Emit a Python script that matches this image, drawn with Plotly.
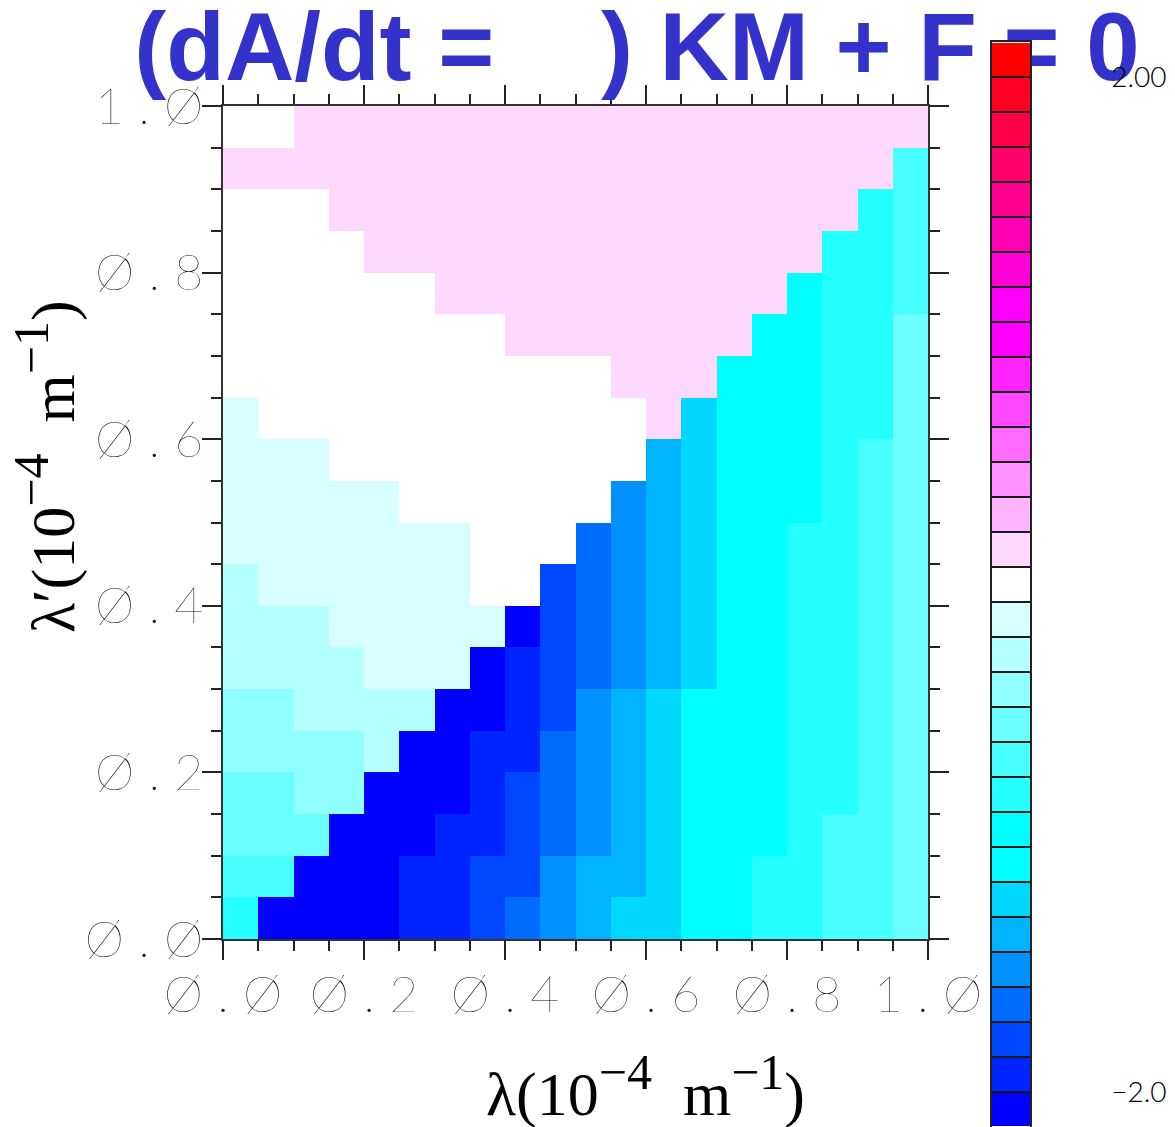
import numpy as np
import plotly.graph_objects as go

# ---------------------------------------------------------------- data
# cell centres along both wavenumber axes (10^-4 m^-1)
lam = [0.025, 0.075, 0.125, 0.175, 0.225, 0.275, 0.325, 0.375, 0.425, 0.475,
       0.525, 0.575, 0.625, 0.675, 0.725, 0.775, 0.825, 0.875, 0.925, 0.975]
lam_prime = [0.025, 0.075, 0.125, 0.175, 0.225, 0.275, 0.325, 0.375, 0.425, 0.475,
             0.525, 0.575, 0.625, 0.675, 0.725, 0.775, 0.825, 0.875, 0.925, 0.975]

# shading-level index of dA/dt in every cell (0 = white band around zero);
# first row is the top one (lambda' = 0.975), columns run with lambda
level_rows = [
    [0, 0, 1, 1, 1, 1, 1, 1, 1, 1, 1, 1, 1, 1, 1, 1, 1, 1, 1, 1],
    [1, 1, 1, 1, 1, 1, 1, 1, 1, 1, 1, 1, 1, 1, 1, 1, 1, 1, 1, -5],
    [0, 0, 0, 1, 1, 1, 1, 1, 1, 1, 1, 1, 1, 1, 1, 1, 1, 1, -6, -5],
    [0, 0, 0, 0, 1, 1, 1, 1, 1, 1, 1, 1, 1, 1, 1, 1, 1, -6, -6, -5],
    [0, 0, 0, 0, 0, 0, 1, 1, 1, 1, 1, 1, 1, 1, 1, 1, -7, -6, -6, -5],
    [0, 0, 0, 0, 0, 0, 0, 0, 1, 1, 1, 1, 1, 1, 1, -7, -7, -6, -6, -4],
    [0, 0, 0, 0, 0, 0, 0, 0, 0, 0, 0, 1, 1, 1, -7, -7, -7, -6, -6, -4],
    [-1, 0, 0, 0, 0, 0, 0, 0, 0, 0, 0, 0, 1, -9, -7, -7, -7, -6, -6, -4],
    [-1, -1, -1, 0, 0, 0, 0, 0, 0, 0, 0, 0, -10, -9, -7, -7, -7, -6, -5, -4],
    [-1, -1, -1, -1, -1, 0, 0, 0, 0, 0, 0, -11, -10, -9, -7, -7, -7, -6, -5, -4],
    [-1, -1, -1, -1, -1, -1, -1, 0, 0, 0, -12, -11, -10, -9, -7, -7, -6, -6, -5, -4],
    [-2, -1, -1, -1, -1, -1, -1, 0, 0, -13, -12, -11, -10, -9, -7, -7, -6, -6, -5, -4],
    [-2, -2, -2, -1, -1, -1, -1, -1, -15, -13, -12, -11, -10, -9, -7, -7, -6, -6, -5, -4],
    [-2, -2, -2, -2, -1, -1, -1, -15, -14, -13, -12, -11, -10, -9, -7, -7, -6, -6, -5, -4],
    [-3, -3, -2, -2, -2, -2, -15, -15, -14, -13, -11, -10, -9, -7, -7, -7, -6, -6, -5, -4],
    [-3, -3, -3, -3, -2, -15, -15, -14, -14, -12, -11, -10, -9, -7, -7, -7, -6, -6, -5, -4],
    [-4, -4, -3, -3, -15, -15, -15, -14, -13, -12, -11, -10, -9, -7, -7, -7, -6, -6, -5, -4],
    [-4, -4, -4, -15, -15, -15, -14, -14, -13, -12, -11, -10, -9, -7, -7, -7, -6, -5, -5, -4],
    [-5, -5, -15, -15, -15, -14, -14, -13, -13, -11, -10, -10, -9, -7, -7, -6, -6, -5, -5, -4],
    [-6, -15, -15, -15, -15, -14, -14, -13, -12, -11, -10, -9, -9, -7, -7, -6, -6, -5, -5, -4],
]

# 31 shading bands (index -15 .. 15); +-2.0 are the outermost interior band edges
level_step = 4.0 / 29.0
band_index = list(range(-15, 16))
level_colors = [
    "#0000FF", "#0024FF", "#0048FF", "#006CFF", "#0090FF", "#00B4FF", "#00D8FF",
    "#00FFFF", "#00FFFF", "#24FFFF", "#48FFFF", "#6CFFFF", "#90FFFF", "#B4FFFF",
    "#D8FFFF", "#FFFFFF", "#FFD8FF", "#FFB4FF", "#FF90FF", "#FF6CFF", "#FF48FF",
    "#FF24FF", "#FF00FF", "#FF00FF", "#FF00D8", "#FF00B4", "#FF0090", "#FF006C",
    "#FF0048", "#FF0024", "#FF0000",
]

cbar_tick_vals = [-2.0, 2.0]
cbar_tick_text = ["\u22122.0", "2.00"]

axis_tick_vals = [0.0, 0.2, 0.4, 0.6, 0.8, 1.0]
axis_tick_text = ["\u00d8 . \u00d8", "\u00d8 . 2", "\u00d8 . 4",
                  "\u00d8 . 6", "\u00d8 . 8", "1 . \u00d8"]

title_text = "(dA/dt =\u00a0\u00a0\u00a0\u00a0) KM + F = 0"
SUP = '<sup><span style="font-size:50px">{}</span></sup>'
x_title = "\u03bb(10" + SUP.format("\u22124") + "\u00a0\u00a0m" + SUP.format("\u22121") + ")"
y_title = "\u03bb\u2032(10" + SUP.format("\u22124") + "\u00a0\u00a0m" + SUP.format("\u22121") + ")"

# ---------------------------------------------------------------- layout geometry (px)
W, H = 1175, 1127
L, R, T, B = 223, 928, 106, 939          # main plot frame
CB_L, CB_R, CB_T = 992, 1030, 42         # colour bar (runs off the bottom edge)

# ---------------------------------------------------------------- colour mapping
n_bands = len(level_colors)
zmin = (band_index[0] - 0.5) * level_step
zmax = (band_index[-1] + 0.5) * level_step
z = np.array(level_rows[::-1], dtype=float) * level_step

colorscale = []
for i, c in enumerate(level_colors):
    colorscale.append([i / n_bands, c])
    colorscale.append([(i + 1) / n_bands, c])

band_values = [k * level_step for k in band_index]
band_edges = [(k + 0.5) * level_step for k in band_index[:-1]]

fig = go.Figure()

# main field
fig.add_trace(go.Heatmap(
    x=lam, y=lam_prime, z=z, xaxis="x", yaxis="y",
    zmin=zmin, zmax=zmax, colorscale=colorscale, showscale=False,
    hoverinfo="skip",
))

# heading, drawn in a full-page overlay so the colour bar sits on top of it
fig.add_trace(go.Scatter(
    x=[637], y=[56], xaxis="x2", yaxis="y2",
    mode="text", text=[title_text], textposition="middle center",
    textfont=dict(family="Liberation Sans", size=96, weight="bold", color="#3333CC"),
    hoverinfo="skip", showlegend=False,
))

# colour bar: one brick per shading band, separated by dark gridlines
fig.add_trace(go.Heatmap(
    x=[0], y=band_values, z=[[v] for v in band_values],
    xaxis="x3", yaxis="y3",
    zmin=zmin, zmax=zmax, colorscale=colorscale, showscale=False,
    ygap=2, hoverinfo="skip",
))

axis_common = dict(
    range=[0, 1], showgrid=False, zeroline=False,
    showline=True, linecolor="#333333", linewidth=1.5, mirror="ticks",
    ticks="outside", ticklen=19, tickwidth=1.5, tickcolor="#222222",
    tickvals=axis_tick_vals, ticktext=axis_tick_text,
    tickfont=dict(family="Lato", size=50, weight=200, color="black"),
    minor=dict(dtick=0.05, tick0=0, ticks="outside", ticklen=10,
               tickwidth=1.5, tickcolor="#222222", showgrid=False),
)

fig.update_layout(
    width=W, height=H,
    margin=dict(l=0, r=0, t=0, b=0, autoexpand=False),
    paper_bgcolor="white", plot_bgcolor="rgba(0,0,0,0)",
    showlegend=False,
    xaxis=dict(domain=[L / W, R / W], anchor="y", ticklabelstandoff=-8, **axis_common),
    yaxis=dict(domain=[1 - B / H, 1 - T / H], anchor="x", ticklabelstandoff=-11, **axis_common),
    xaxis2=dict(domain=[0, 1], range=[0, W], anchor="y2", visible=False),
    yaxis2=dict(domain=[0, 1], range=[H, 0], anchor="x2", visible=False),
    xaxis3=dict(domain=[CB_L / W, CB_R / W], range=[-0.5, 0.5], anchor="y3",
                showline=True, linecolor="#222222", linewidth=1.5, mirror=True,
                showticklabels=False, ticks="", showgrid=False, zeroline=False),
    yaxis3=dict(domain=[0, 1 - CB_T / H], range=[zmin, zmax], anchor="x3", side="right",
                showline=True, linecolor="#222222", linewidth=1.5, mirror=True,
                showgrid=False, zeroline=False,
                tickvals=cbar_tick_vals, ticktext=cbar_tick_text,
                ticks="outside", ticklen=74, tickcolor="rgba(0,0,0,0)",
                tickfont=dict(family="Lato", size=28, weight=300, color="black"),
                minor=dict(tickvals=band_edges, showgrid=True,
                           gridcolor="#1a1a1a", gridwidth=2, ticks="")),
)

fig.add_annotation(
    text=x_title, xref="paper", yref="paper",
    x=645 / W, y=1 - 1086 / H, xanchor="center", yanchor="middle", showarrow=False,
    font=dict(family="Liberation Serif", size=62, color="black"),
)
fig.add_annotation(
    text=y_title, xref="paper", yref="paper",
    x=45 / W, y=1 - 467 / H, xanchor="center", yanchor="middle",
    textangle=-90, showarrow=False,
    font=dict(family="Liberation Serif", size=62, color="black"),
)

fig.write_html("out.html")
